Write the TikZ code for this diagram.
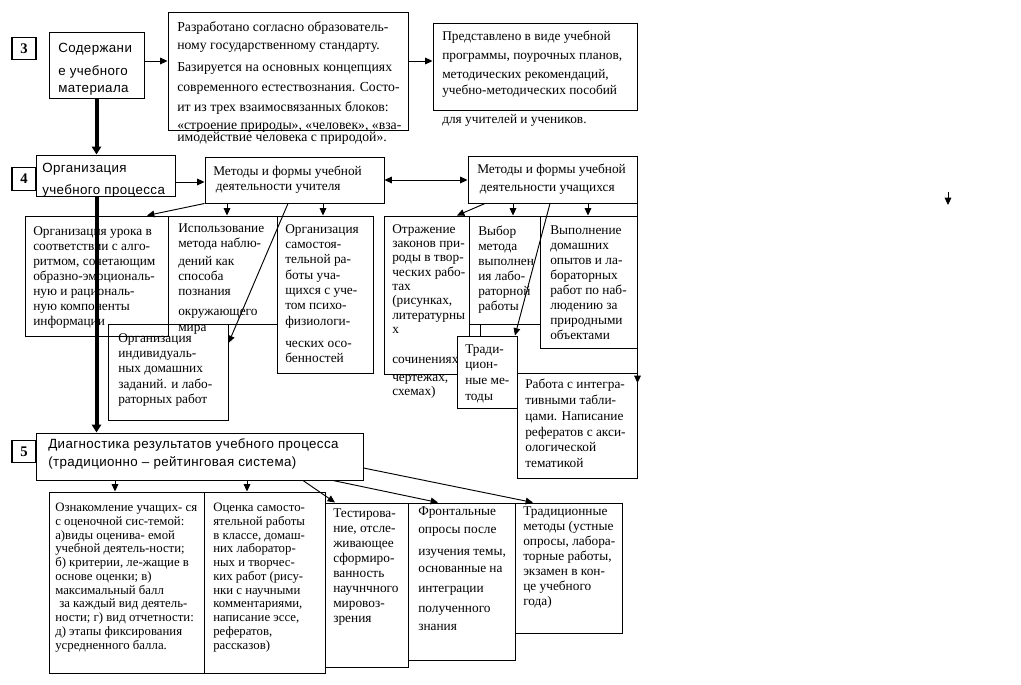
\documentclass[tikz,border=0pt]{standalone}
\usepackage{fontspec}
\setmainfont{Liberation Serif}
\newfontfamily\arialf[LetterSpace=3]{Liberation Sans}
\usetikzlibrary{arrows.meta,fit}
\begin{document}
\begin{tikzpicture}[x=0.75pt,y=-0.75pt,
 box/.style={draw,line width=0.75pt,inner sep=0pt},
 txt/.style={anchor=north west,inner sep=0pt,align=left,font=\fontsize{10}{11.25}\selectfont},
 atxt/.style={anchor=north west,inner sep=0pt,align=left,font=\arialf\fontsize{10}{13.5}\selectfont},
 numbox/.style={draw,line width=0.9pt,inner sep=0pt,minimum width=18pt,minimum height=17pt,font=\bfseries\fontsize{11}{12}\selectfont},
 con/.style={line width=0.7pt},
 arr/.style={line width=0.7pt,-{Triangle[length=5.5pt,width=5pt]}},
 darr/.style={line width=0.7pt,{Triangle[length=5.5pt,width=5pt]}-{Triangle[length=5.5pt,width=5pt]}},
 fatarr/.style={line width=3pt,-{Triangle[length=6pt,width=7pt]}}
]
\useasboundingbox (0,0) rectangle (1021,685);

% ---------- level 3 ----------
\node[numbox] (n3) at (24,48.5) {3};
\node[box,fit={(49,33)(144,99)}] (b2) {};
\node[atxt] (t2) at (58,43) {Содержани\\[3.75pt]е учебного\\[-0.75pt]материала};
\node[box,fit={(168,13)(408,130)}] (b4) {};
\node[txt,font=\fontsize{10.3}{13.5}\selectfont] (t4) at (177,21) {Разработано согласно  образователь-\\ному государственному стандарту.\\[3pt]Базируется на основных концепциях\\[1.5pt]современного естествознания. Состо-\\[1.5pt]ит из трех взаимосвязанных блоков:\\«строение природы», «человек», «вза-\\[-4.5pt]имодействие человека с природой».};
\node[box,fit={(433,24)(637,111)}] (b5) {};
\node[txt,font=\fontsize{10}{13.5}\selectfont] (t5) at (442,31) {Представлено в виде учебной\\[0.75pt]программы, поурочных планов,\\[0.75pt]методических  рекомендаций,\\[-1.5pt]учебно-методических  пособий\\[8.25pt]для учителей и учеников.};

% ---------- level 4 ----------
\node[numbox] (n4) at (24,179) {4};
\node[box,fit={(36,155)(175,196)}] (org) {};
\node[atxt] (torg) at (42,163) {Организация\\[3pt]учебного процесса};
\node[box,fit={(205,157)(384,203)}] (T) {};
\node[txt] (tT) at (213,166) {Методы и формы  учебной\\\hspace*{2pt}деятельности учителя};
\node[box,fit={(468,156)(637,203)}] (S) {};
\node[txt,font=\fontsize{10}{13.5}\selectfont] (tS) at (477,164) {Методы и формы  учебной\\\hspace*{2pt}деятельности учащихся};

\node[box,fit={(25,216)(168,336)}] (A) {};
\node[txt] (tA) at (33,226) {Организация урока в\\соответствии с алго-\\ритмом, сочетающим\\образно-эмоциональ-\\ную и рациональ-\\ную компоненты\\информации};
\node[box,fit={(168,216)(277,324)}] (B) {};
\node[txt] (tB) at (178,224) {Использование\\метода наблю-\\[1.5pt]дений  как\\способа\\познания\\[3.75pt]окружающего\\[1.5pt]мира};
\node[box,fit={(277,216)(373,373)}] (C) {};
\node[txt,font=\fontsize{10}{11.5}\selectfont] (tC) at (285,224) {Организация\\самостоя-\\тельной ра-\\боты уча-\\щихся с уче-\\том психо-\\физиологи-\\[5pt]ческих  осо-\\бенностей};
\node[box,fit={(108,324)(228,420)}] (D) {};
\node[txt,font=\fontsize{10}{11.5}\selectfont] (tD) at (118,333) {Организация\\индивидуаль-\\ных домашних\\заданий. и лабо-\\раторных работ};

\node[box,fit={(384,216)(469,374)}] (E) {};
\node[txt,font=\fontsize{10}{10.75}\selectfont] (tE) at (392,224) {Отражение\\законов при-\\роды в твор-\\ческих рабо-\\тах\\(рисунках,\\литературны\\х\\[11.8pt]сочинениях,\\[2.8pt]чертежах,\\схемах)};
\node[box,fit={(469,216)(540,324)}] (F) {};
\node[txt] (tF) at (478,226) {Выбор\\метода\\выполнен\\ия лабо-\\раторной\\работы};
\node[box,fit={(540,216)(637,348)}] (G) {};
\node[txt] (tG) at (550,226) {Выполнение\\домашних\\опытов и ла-\\бораторных\\работ по наб-\\людению за\\природными\\объектами};
\node[box,fill=white,fit={(457,336)(517,408)}] (H) {};
\node[txt,font=\fontsize{10}{11.75}\selectfont] (tH) at (465,344) {Тради-\\цион-\\ные ме-\\тоды};
\node[box,fit={(517,373)(637,478)}] (I) {};
\node[txt,font=\fontsize{10}{11.8}\selectfont] (tI) at (525,379) {Работа с интегра-\\тивными табли-\\цами. Написание\\рефератов с  акси-\\ологической\\тематикой};

% ---------- level 5 ----------
\node[numbox] (n5) at (24,451.5) {5};
\node[box,fit={(36,433)(363,480)}] (diag) {};
\node[atxt] (tdiag) at (48,438) {Диагностика результатов учебного процесса\\(традиционно – рейтинговая система)};
\node[box,fit={(49,492)(204,673)}] (J) {};
\node[txt,font=\fontsize{9.6}{10.3}\selectfont] (tJ) at (55,503) {Ознакомление учащих- ся\\с  оценочной сис-темой:\\а)виды оценива- емой\\учебной деятель-ности;\\б) критерии, ле-жащие в\\основе оценки; в)\\максимальный балл\\\hspace*{3pt}за каждый вид деятель-\\ности; г) вид  отчетности:\\д) этапы  фиксирования\\усредненного балла.};
\node[box,fit={(204,492)(325,673)}] (K) {};
\node[txt,font=\fontsize{9.6}{10.3}\selectfont] (tK) at (213,503) {Оценка  самосто-\\ятельной работы\\в классе, домаш-\\них  лаборатор-\\ных и творчес-\\ких работ (рису-\\нки с научными\\комментариями,\\написание эссе,\\рефератов,\\рассказов)};
\node[box,fit={(325,503)(408,667)}] (L) {};
\node[txt] (tL) at (333,508) {Тестирова-\\ние, отсле-\\живающее\\сформиро-\\ванность\\научнчного\\мировоз-\\зрения};
\node[box,fit={(408,503)(515,660)}] (M) {};
\node[txt,font=\fontsize{10}{13.5}\selectfont] (tM) at (418,506) {Фронтальные\\опросы после\\[3pt]изучения темы,\\[-0.75pt]основанные на\\[1.5pt]интеграции\\[1.5pt]полученного\\знания};
\node[box,fit={(515,503)(622,633)}] (N) {};
\node[txt] (tN) at (523,506) {Традиционные\\методы (устные\\опросы, лабора-\\торные работы,\\экзамен в кон-\\це  учебного\\года)};

% ---------- connectors ----------
\draw[arr] (b2.east |- 0,61) -- (b4.west |- 0,61);
\draw[arr] (b4.east |- 0,61) -- (b5.west |- 0,61);
\draw[arr] (org.east |- 0,182) -- (T.west |- 0,182);
\draw[darr] (T.east |- 0,180) -- (S.west |- 0,180);

\draw[arr] (T.south west) -- (A.north -| 147,0);
\draw[arr] (T.south -| 227,0) -- (B.north -| 227,0);
\draw[arr] (T.south -| 323,0) -- (C.north -| 323,0);
\draw[arr] (T.south -| 288,0) -- (D.east |- 0,343);

\draw[arr] (S.south -| 485,0) -- (E.north -| 457,0);
\draw[arr] (S.south -| 513,0) -- (F.north -| 513,0);
\draw[arr] (S.south -| 588,0) -- (G.north -| 588,0);
\draw[arr] (S.south -| 550,0) -- (H.north -| 515,0);
\draw[arr] (S.south east) -- (I.east |- 0,383);
\draw[con] (F.south -| 480,0) -- (H.north -| 480,0);

\draw[arr] (diag.south -| 115,0) -- (J.north -| 115,0);
\draw[arr] (diag.south -| 247,0) -- (K.north -| 247,0);
\draw[arr] (diag.south -| 303,0) -- (L.north -| 335,0);
\draw[arr] (diag.south -| 333,0) -- (M.north -| 438,0);
\draw[arr] (diag.east |- 0,468) -- (N.north -| 533,0);

\coordinate (s1) at (948,192);
\coordinate (s2) at (948,205);
\draw[arr] (s1) -- (s2);

\draw[fatarr] (b2.south) -- (b2.south |- org.north);
\draw[fatarr] (b2.south |- org.south) -- (b2.south |- diag.north);
\end{tikzpicture}
\end{document}
